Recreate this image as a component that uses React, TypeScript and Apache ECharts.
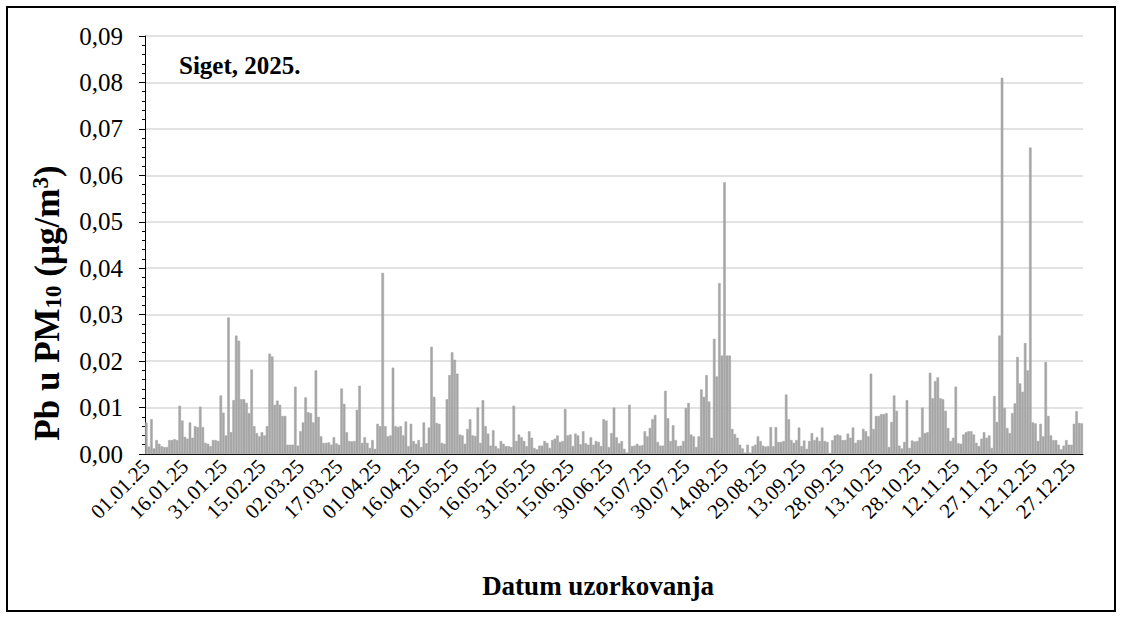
import React, { useEffect, useRef } from 'react';
import * as echarts from 'echarts';

// Pb in PM10 (µg/m³), daily values 2025, split by month
const jan = [0.0068, 0.0016, 0.0075, 0.0012, 0.003, 0.0022, 0.0017, 0.0015, 0.0015, 0.003, 0.003, 0.0032, 0.003, 0.0104, 0.0072, 0.0037, 0.0033, 0.0068, 0.0035, 0.006, 0.0058, 0.0102, 0.0058, 0.0024, 0.0022, 0.0017, 0.003, 0.003, 0.0028, 0.0126, 0.0089];
const feb = [0.004, 0.0294, 0.0047, 0.0116, 0.0255, 0.0244, 0.0118, 0.0118, 0.011, 0.0088, 0.0182, 0.006, 0.0045, 0.0038, 0.0047, 0.004, 0.006, 0.0216, 0.021, 0.0106, 0.0115, 0.0106, 0.0082, 0.0082, 0.002, 0.002, 0.002, 0.0145];
const mar = [0.0018, 0.0049, 0.0068, 0.0122, 0.009, 0.0088, 0.0068, 0.018, 0.008, 0.0038, 0.0024, 0.0024, 0.0025, 0.002, 0.0036, 0.0023, 0.002, 0.0141, 0.0108, 0.0047, 0.0028, 0.0027, 0.0028, 0.0095, 0.0147, 0.0024, 0.0036, 0.0024, 0.0013, 0.003, 0.0011];
const apr = [0.0065, 0.006, 0.039, 0.006, 0.0038, 0.004, 0.0186, 0.006, 0.0058, 0.006, 0.004, 0.007, 0.0017, 0.0065, 0.0028, 0.0022, 0.003, 0.0015, 0.0068, 0.0023, 0.0057, 0.0231, 0.0123, 0.0067, 0.0065, 0.0024, 0.0022, 0.0118, 0.017, 0.0219];
const may = [0.0203, 0.0173, 0.0042, 0.004, 0.0022, 0.0054, 0.0075, 0.004, 0.0039, 0.01, 0.0024, 0.0116, 0.006, 0.0044, 0.0018, 0.0051, 0.0017, 0.0012, 0.0028, 0.0022, 0.0017, 0.0017, 0.0015, 0.0104, 0.0028, 0.0042, 0.0036, 0.0028, 0.0017, 0.0049, 0.0035];
const jun = [0.0013, 0.001, 0.0018, 0.0018, 0.0028, 0.0024, 0.0013, 0.003, 0.0033, 0.004, 0.0026, 0.0028, 0.0097, 0.004, 0.0042, 0.0017, 0.0044, 0.004, 0.0021, 0.0049, 0.0023, 0.002, 0.0036, 0.002, 0.0028, 0.0026, 0.0017, 0.0075, 0.0072, 0.0015];
const jul = [0.0045, 0.01, 0.0036, 0.0023, 0.0028, 0.0011, 0.0003, 0.0106, 0.0017, 0.0018, 0.0022, 0.0018, 0.0019, 0.0049, 0.0038, 0.0056, 0.0075, 0.0084, 0.0026, 0.0018, 0.0018, 0.0136, 0.0077, 0.0028, 0.0062, 0.003, 0.0017, 0.0018, 0.0028, 0.0099, 0.011];
const aug = [0.0042, 0.0038, 0.0015, 0.0038, 0.0139, 0.0123, 0.017, 0.0113, 0.0035, 0.0248, 0.0167, 0.0368, 0.0212, 0.0585, 0.0212, 0.0212, 0.0054, 0.0043, 0.0035, 0.002, 0.0012, 0.0003, 0.002, 0.0003, 0.0017, 0.002, 0.0038, 0.0028, 0.0018, 0.0016, 0.0017];
const sep = [0.0058, 0.0017, 0.0058, 0.0026, 0.0026, 0.0028, 0.0128, 0.0075, 0.003, 0.0024, 0.003, 0.0057, 0.0017, 0.0029, 0.0011, 0.0028, 0.0045, 0.003, 0.0036, 0.0028, 0.0057, 0.0028, 0.0026, 0.0002, 0.003, 0.004, 0.0042, 0.004, 0.003, 0.003];
const oct = [0.0044, 0.0035, 0.0057, 0.0024, 0.003, 0.003, 0.0054, 0.0049, 0.0038, 0.0173, 0.0054, 0.0082, 0.0082, 0.0086, 0.0086, 0.0088, 0.0015, 0.0069, 0.0126, 0.0093, 0.0018, 0.0012, 0.0026, 0.0116, 0.0013, 0.0029, 0.0027, 0.0028, 0.0036, 0.01, 0.0045];
const nov = [0.0047, 0.0175, 0.012, 0.0157, 0.0165, 0.012, 0.0118, 0.0093, 0.0056, 0.0028, 0.0035, 0.0145, 0.0023, 0.0022, 0.0042, 0.0047, 0.0049, 0.0049, 0.0042, 0.0024, 0.0017, 0.0033, 0.0047, 0.0035, 0.004, 0.0013, 0.0125, 0.0069, 0.0255, 0.081];
const dec = [0.0099, 0.0056, 0.0045, 0.0088, 0.0109, 0.0209, 0.0152, 0.0134, 0.0239, 0.018, 0.066, 0.0068, 0.0066, 0.0028, 0.0065, 0.0038, 0.0198, 0.0082, 0.004, 0.003, 0.003, 0.002, 0.001, 0.0018, 0.003, 0.002, 0.002, 0.0065, 0.0092, 0.0067, 0.0066];

const values = [...jan, ...feb, ...mar, ...apr, ...may, ...jun, ...jul, ...aug, ...sep, ...oct, ...nov, ...dec];

const pad = (n: number) => (n < 10 ? '0' + n : '' + n);
const categories: string[] = values.map((_, i) => {
  const d = new Date(Date.UTC(2025, 0, 1 + i));
  return `${pad(d.getUTCDate())}.${pad(d.getUTCMonth() + 1)}.25`;
});

const chartTitle = 'Siget, 2025.';
const xTitle = 'Datum uzorkovanja';

const FONT = "'Liberation Serif', 'Times New Roman', serif";

export default function App() {
  const ref = useRef<HTMLDivElement>(null);
  useEffect(() => {
    const chart = echarts.init(ref.current!, null, { renderer: 'svg' });
    chart.setOption({
      animation: false,
      backgroundColor: '#ffffff',
      grid: { left: 145, right: 40, top: 36, bottom: 165 },
      xAxis: [
        {
          type: 'category',
          data: categories,
          boundaryGap: true,
          axisLine: { lineStyle: { color: '#000', width: 1 } },
          axisTick: { interval: 4, length: 6, lineStyle: { color: '#000' } },
          axisLabel: {
            interval: 14,
            rotate: 45,
            margin: 9,
            fontFamily: FONT,
            fontSize: 21,
            color: '#000',
          },
          splitLine: { show: false },
        },
        {
          type: 'category',
          data: categories,
          position: 'bottom',
          boundaryGap: true,
          axisLine: { show: false },
          axisTick: { interval: 14, length: 9, lineStyle: { color: '#000' } },
          axisLabel: { show: false },
          splitLine: { show: false },
        },
      ],
      yAxis: {
        type: 'value',
        min: 0,
        max: 0.09,
        interval: 0.01,
        axisLine: { show: true, lineStyle: { color: '#000' } },
        axisTick: { show: true, length: 6, lineStyle: { color: '#000' } },
        minorTick: { show: true, splitNumber: 5, length: 3, lineStyle: { color: '#000' } },
        splitLine: { lineStyle: { color: '#d9d9d9', width: 1.5 } },
        axisLabel: {
          formatter: (v: number) => v.toFixed(2).replace('.', ','),
          fontFamily: FONT,
          fontSize: 25,
          color: '#000',
          margin: 22,
        },
      },
      series: [
        {
          type: 'bar',
          data: values,
          xAxisIndex: 0,
          barCategoryGap: '0%',
          itemStyle: { color: '#a6a6a6', borderColor: '#a6a6a6', borderWidth: 0.5 },
        },
      ],
      graphic: [
        {
          type: 'rect',
          shape: { x: 7, y: 7, width: 1108, height: 604 },
          style: { fill: 'none', stroke: '#000', lineWidth: 2 },
          silent: true,
          z: 100,
        },
        {
          type: 'text',
          x: 179,
          y: 65,
          style: {
            text: chartTitle,
            fontFamily: FONT,
            fontWeight: 'bold',
            fontSize: 25,
            fill: '#000',
            align: 'left',
            verticalAlign: 'middle',
          },
        },
        {
          type: 'text',
          x: 598,
          y: 586,
          style: {
            text: xTitle,
            fontFamily: FONT,
            fontWeight: 'bold',
            fontSize: 27,
            fill: '#000',
            align: 'center',
            verticalAlign: 'middle',
          },
        },
        {
          type: 'text',
          x: 47,
          y: 303,
          rotation: Math.PI / 2,
          style: {
            text: '{a|Pb u PM}{b|10}{a| (µg/m}{c|3}{a|)}',
            align: 'center',
            verticalAlign: 'middle',
            fill: '#000',
            rich: {
              a: { fontFamily: FONT, fontWeight: 'bold', fontSize: 35, lineHeight: 36, fill: '#000' },
              b: { fontFamily: FONT, fontWeight: 'bold', fontSize: 23, lineHeight: 16, verticalAlign: 'bottom', fill: '#000' },
              c: { fontFamily: FONT, fontWeight: 'bold', fontSize: 23, lineHeight: 16, verticalAlign: 'top', fill: '#000' },
            },
          },
        },
      ],
    });
    return () => chart.dispose();
  }, []);
  return (
    <div
      ref={ref}
      style={{ position: 'absolute', left: 0, top: 0, width: 1123, height: 619, background: '#fff' }}
    />
  );
}
